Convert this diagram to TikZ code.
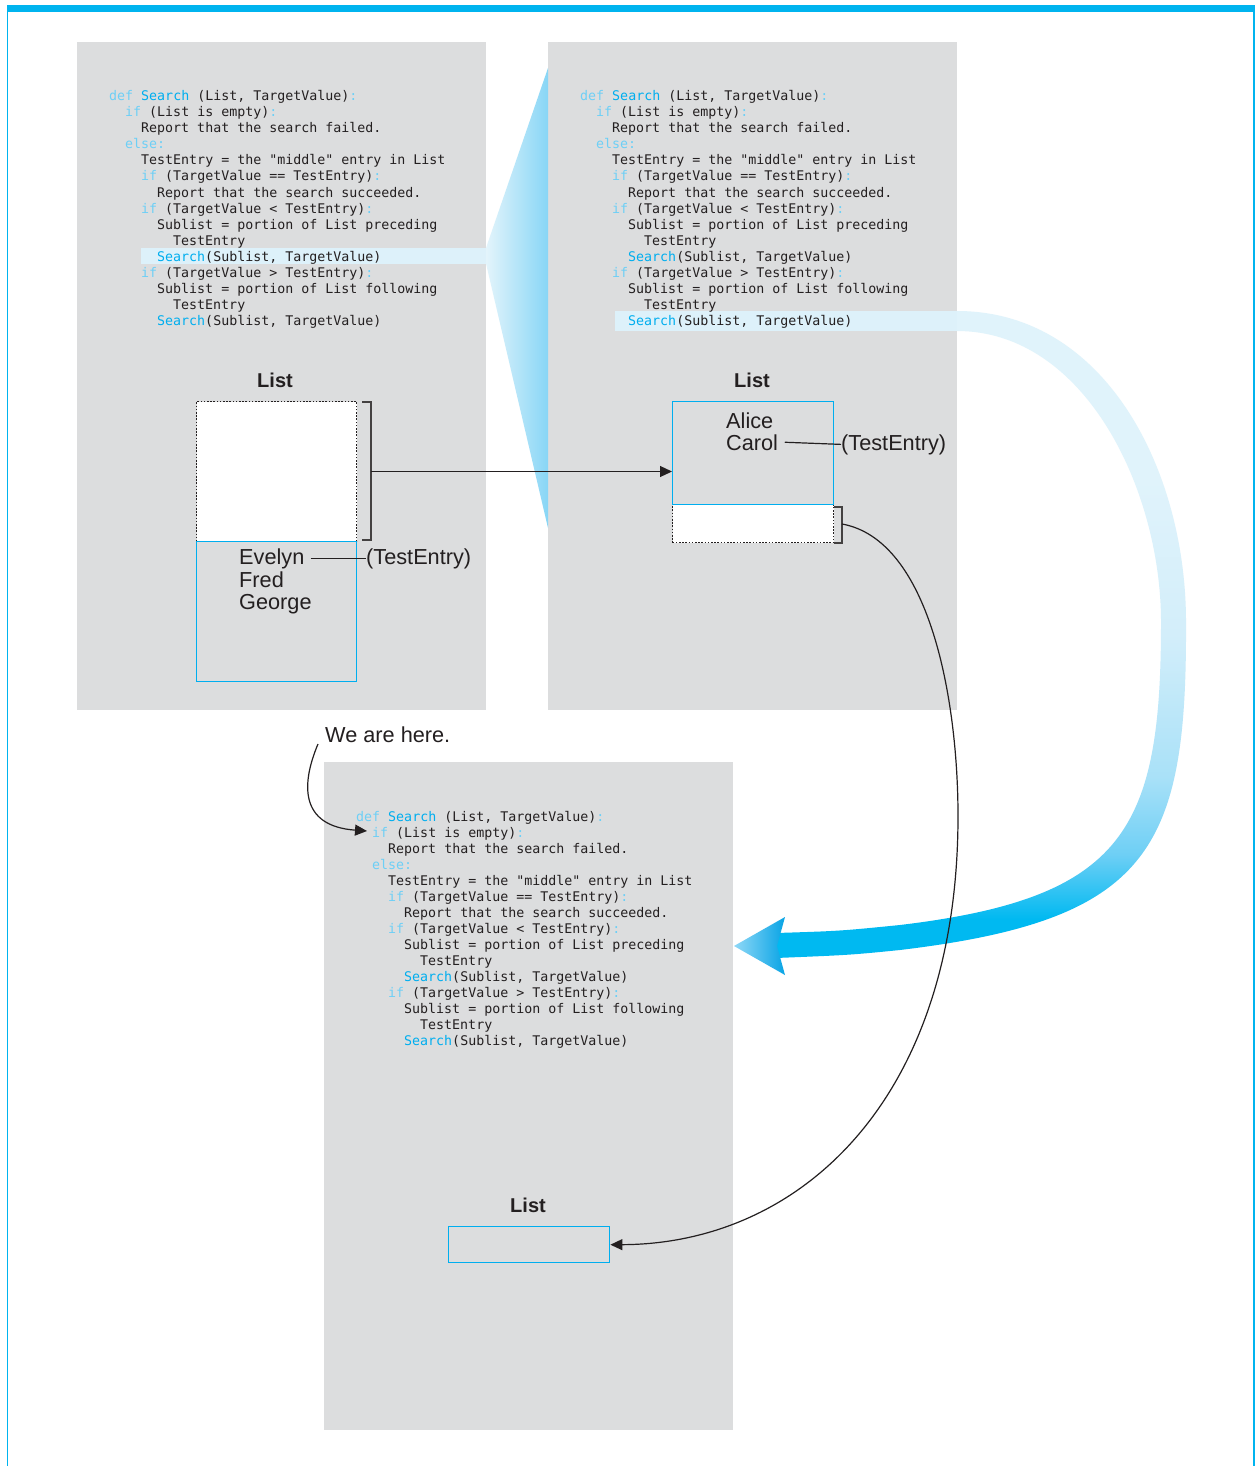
\documentclass[tikz,border=0pt]{standalone}
\usepackage{fontspec}
\setmainfont{Liberation Sans}
\newfontfamily\codefont{DejaVu Sans Mono}
\usetikzlibrary{arrows.meta}
\definecolor{panelgray}{HTML}{DCDDDE}
\definecolor{kwblue}{HTML}{6DCFF6}
\definecolor{srblue}{HTML}{00AEEF}
\definecolor{txt}{HTML}{231F20}
\definecolor{boxblue}{HTML}{00AEEF}
\definecolor{hl}{HTML}{DDF1FA}
\definecolor{framecol}{HTML}{00B4EF}
\definecolor{bandTop}{HTML}{E0F3FB}
\definecolor{bandA}{HTML}{D3EEFA}
\definecolor{bandB}{HTML}{A9E1F8}
\definecolor{bandC}{HTML}{6ECFF5}
\definecolor{bandD}{HTML}{00B9F1}
\definecolor{funL}{HTML}{E3F4FB}
\definecolor{funR}{HTML}{88D6F6}
\definecolor{headL}{HTML}{8FD8F7}
\definecolor{headR}{HTML}{08A4E5}
\pgfdeclareverticalshading{bandshade}{100bp}{color(0bp)=(bandD); color(25bp)=(bandD); color(28bp)=(bandD); color(33bp)=(bandC); color(39bp)=(bandB); color(50bp)=(bandA); color(62bp)=(bandTop); color(75bp)=(bandTop); color(100bp)=(bandTop)}
\newcommand\cKw[1]{\textcolor{kwblue}{#1}}
\newcommand\cSr[1]{\textcolor{srblue}{#1}}
\newcommand\codeline[3]{\node[codetxt] (l#1) at ({8*#2},{16*#1}) {#3};}
\newcommand\codeblock{%
\codeline{0}{0}{\cKw{def} \cSr{Search} (List, TargetValue)\cKw{:}}
\codeline{1}{2}{\cKw{if} (List is empty)\cKw{:}}
\codeline{2}{4}{Report that the search failed.}
\codeline{3}{2}{\cKw{else:}}
\codeline{4}{4}{TestEntry = the "middle" entry in List}
\codeline{5}{4}{\cKw{if} (TargetValue == TestEntry)\cKw{:}}
\codeline{6}{6}{Report that the search succeeded.}
\codeline{7}{4}{\cKw{if} (TargetValue < TestEntry)\cKw{:}}
\codeline{8}{6}{Sublist = portion of List preceding}
\codeline{9}{8}{TestEntry}
\codeline{10}{6}{\cSr{Search}(Sublist, TargetValue)}
\codeline{11}{4}{\cKw{if} (TargetValue > TestEntry)\cKw{:}}
\codeline{12}{6}{Sublist = portion of List following}
\codeline{13}{8}{TestEntry}
\codeline{14}{6}{\cSr{Search}(Sublist, TargetValue)}}
\begin{document}
\begin{tikzpicture}[x=1pt,y=-1pt,
  panel/.style={fill=panelgray, draw=none, inner sep=0pt, anchor=north west},
  codetxt/.style={anchor=base west, inner sep=0pt, text=txt, font=\codefont\fontsize{13.3}{16}\selectfont},
  lab/.style={inner sep=0pt, text=txt, font=\fontsize{21.7}{22}\selectfont},
  listlab/.style={inner sep=0pt, text=txt, anchor=base, font=\bfseries\fontsize{20}{22}\selectfont},
  bluebox/.style={draw=boxblue, line width=1.4pt, inner sep=0pt, anchor=north west},
  dotbox/.style={draw=txt, fill=white, line width=1.3pt, dash pattern=on 1.6pt off 1.6pt, inner sep=0pt, anchor=north west},
  thinline/.style={draw=txt, line width=1.2pt},
  bracketline/.style={draw=txt!85, line width=1.5pt},
  arr/.style={draw=txt, line width=1.2pt, -{Triangle[length=12pt,width=11pt]}}]
\useasboundingbox (0,0) rectangle (1258,1466);
\fill[white] (0,0) rectangle (1258,1466);
% frame
\draw[framecol, line width=1.5pt] (7.6,10) -- (7.6,1466);
\draw[framecol, line width=1.5pt] (1253.8,10) -- (1253.8,1466);
\fill[framecol] (6.8,5) rectangle (1254.6,12.5);
% panels
\node[panel, minimum width=409, minimum height=668] (p1) at (77,42) {};
\node[panel, minimum width=409, minimum height=668] (p2) at (548,42) {};
\node[panel, minimum width=409, minimum height=668] (p3) at (324,762) {};
% highlights and funnel
\fill[hl] (141,248) rectangle (486,263.5);
\fill[hl] (615,311) rectangle (957,331);
\shade[left color=funL, right color=funR] (486,248) -- (548,68) -- (548,528) -- (486,263.5) -- cycle;
% code blocks
\begin{scope}[shift={(109,101)}, name prefix=a-]\codeblock\end{scope}
\begin{scope}[shift={(580,101)}, name prefix=b-]\codeblock\end{scope}
\begin{scope}[shift={(356,821)}, name prefix=c-]\codeblock\end{scope}
% left list
\node[listlab] (L1) at (275,387) {List};
\node[dotbox, minimum width=160, minimum height=140] (lb1) at (196,401) {};
\node[bluebox, minimum width=160, minimum height=140] (lb2) at (196,541) {};
\node[lab, anchor=base west] (ev) at (239,564) {Evelyn};
\node[lab, anchor=base west] (fr) at (239,587) {Fred};
\node[lab, anchor=base west] (ge) at (239,609) {George};
\node[lab, anchor=base west] (te1) at (366,564) {(TestEntry)};
\draw[thinline] ([xshift=6pt]ev.east) -- (te1.west);
\draw[bracketline] (362,402) -- (371,402) -- (371,540) -- (362,540);
\coordinate (brk1) at (371,471.5);
% right list
\node[listlab] (L2) at (752,387) {List};
\node[dotbox, minimum width=161, minimum height=38] (rb2) at (672,504) {};
\node[bluebox, minimum width=161, minimum height=103] (rb1) at (672,401) {};
\node[lab, anchor=base west] (al) at (726,428) {Alice};
\node[lab, anchor=base west] (ca) at (726,450) {Carol};
\node[lab, anchor=base west] (te2) at (841,450) {(TestEntry)};
\draw[thinline] ([xshift=6.5pt]ca.east) -- (te2.west);
\draw[bracketline] (834,507) -- (842,507) -- (842,543) -- (834,543);
\coordinate (brk2) at (842,524);
\draw[arr] (brk1) -- (brk1 -| rb1.west);
% bottom list
\node[listlab] (L3) at (528,1212) {List};
\node[bluebox, minimum width=161, minimum height=36] (bb) at (448,1226) {};
% we are here
\node[lab, anchor=base west] (weh) at (325,742) {We are here.};
\coordinate (hereStart) at (318,744);
\coordinate (hereTip) at (367,831);
\draw[arr] (hereStart) .. controls (302,782) and (298,826) .. (hereTip);
% big band arrow
\shade[shading=bandshade] (957,311) .. controls (1105,311) and (1186,470) .. (1186,622)
  .. controls (1187,850) and (1150,920) .. (900,950) .. controls (850,955) .. (776,958)
  -- (776,933) .. controls (840,931) .. (900,925) .. controls (1125,898) and (1161,830) .. (1161,622)
  .. controls (1161,490) and (1085,331) .. (957,331) -- cycle;
\shade[left color=headL, right color=headR] (734,946) -- (785,917) -- (777,946) -- (785,975) -- cycle;
% thin curve to bottom list
\draw[arr] (brk2) .. controls (930,540) and (958,700) .. (958,816) .. controls (958,1100) and (800,1244) .. (bb.east);
\end{tikzpicture}
\end{document}
